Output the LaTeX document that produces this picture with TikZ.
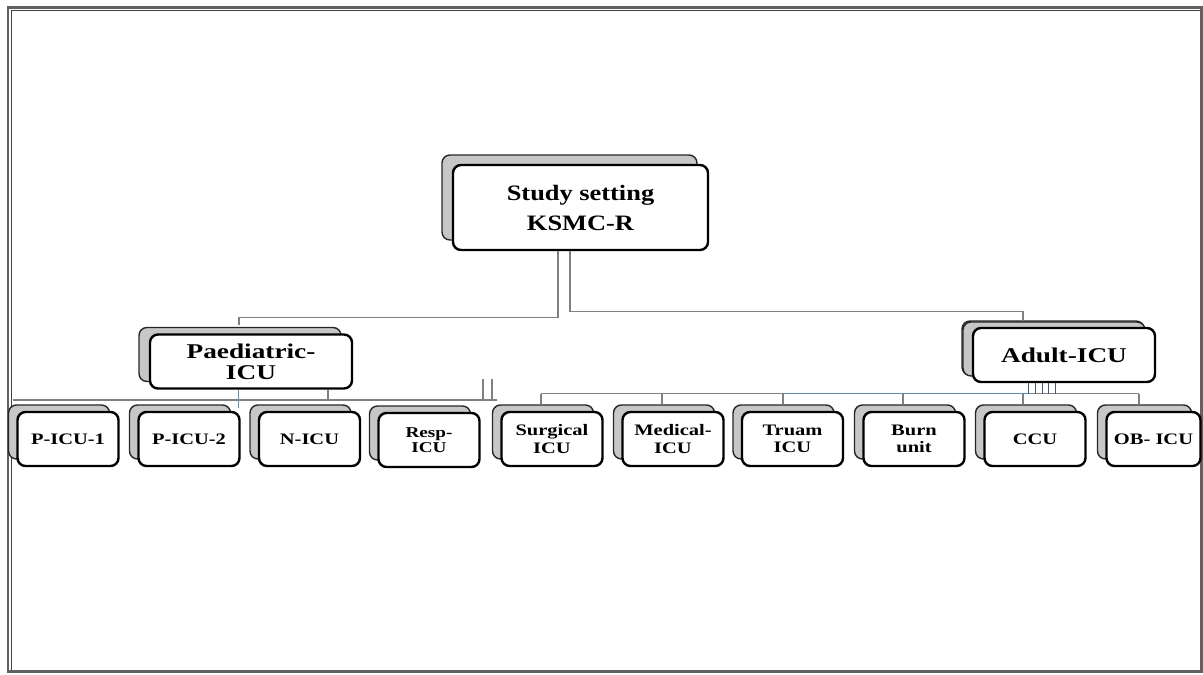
\documentclass[tikz,border=0pt]{standalone}
\usepackage{fontspec}
\setmainfont{Liberation Serif}
\newfontfamily\rootfont[FakeStretch=1.2]{Liberation Serif}
\newfontfamily\midfont[FakeStretch=1.3]{Liberation Serif}
\newfontfamily\leaffont[FakeStretch=1.28]{Liberation Serif}
\usetikzlibrary{shadows}
\begin{document}
\begin{tikzpicture}[x=1pt,y=-1pt,
  front/.style 2 args={draw=black, line width=2.4pt, fill=white,
    rounded corners=8pt, inner sep=0pt, align=center,
    general shadow={draw=black!85, line width=1.4pt, fill=black!22,
      shadow xshift=#1pt, shadow yshift=#2pt}},
  rootbox/.style={front={-11}{10}, minimum width=255pt, minimum height=85pt,
    font=\rootfont\bfseries\fontsize{22}{30}\selectfont},
  midbox/.style={front={-11}{7}, minimum height=54pt,
    font=\midfont\bfseries\fontsize{21}{21}\selectfont},
  leafbox/.style={front={-9}{7}, minimum width=101pt, minimum height=54pt,
    font=\leaffont\bfseries\fontsize{16}{17.5}\selectfont},
  conn/.style={draw=black!50, line width=1.3pt},
  blueconn/.style={draw={rgb,255:red,95;green,140;blue,185}, line width=1.1pt},
  thinconn/.style={draw={rgb,255:red,70;green,90;blue,120}, line width=0.9pt}
]
\useasboundingbox (0,0) rectangle (1203,675);
% frame
\draw[draw=black!62, line width=2.6pt] (8,7.5) rectangle (1201.5,671.5);
\draw[draw=black!75, line width=1pt] (11.5,669.5) -- (11.5,10.8) -- (1199.5,10.8);

% nodes
\node[rootbox] (root) at (580.5,207.5) {Study setting\\KSMC-R};
\node[midbox, minimum width=202pt] (ped) at (251,361.5) {Paediatric-\\ICU};
\node[midbox, minimum width=182pt, front={-10}{6}] (adult) at (1064,355) {Adult-ICU};

\node[leafbox] (p1) at (68,439) {P-ICU-1};
\node[leafbox] (p2) at (189,439) {P-ICU-2};
\node[leafbox] (ni) at (309.5,439) {N-ICU};
\node[leafbox, font=\leaffont\bfseries\fontsize{15}{15}\selectfont] (resp) at (429,440) {Resp-\\ICU};
\node[leafbox] (surg) at (552,439) {Surgical\\ICU};
\node[leafbox] (med) at (673,439) {Medical-\\ICU};
\node[leafbox] (tru) at (792.5,439) {Truam\\ICU};
\node[leafbox] (burn) at (914,439) {Burn\\unit};
\node[leafbox] (ccu) at (1035,439) {CCU};
\node[leafbox, minimum width=94pt] (ob) at (1153.5,439) {OB- ICU};

% root connectors
\draw[conn] ([xshift=-22.5pt]root.south) -- ++(0,66) -| ([xshift=-12pt,yshift=8pt]ped.north);
\draw[conn] ([xshift=-10.5pt]root.south) -- ++(0,60) -| ([xshift=-41pt,yshift=6pt]adult.north);

% paediatric bus
\coordinate (pl) at (12.5,400);
\coordinate (pr) at (497,400);
\draw[conn] (pl) -- (pr);
\coordinate (pa) at ([xshift=77pt]ped.south);
\draw[conn] (pa) -- (pa |- pl);
\coordinate (pb) at ([xshift=-13pt]ped.south);
\draw[blueconn, line width=0.8pt] (pb) -- ++(0,18);
\coordinate (q1) at (483,379);
\coordinate (q2) at (492,379);
\draw[conn] (q1) -- (q1 |- pl);
\draw[conn] (q2) -- (q2 |- pl);

% adult bus
\coordinate (b1) at ([xshift=-11pt,yshift=17pt]surg.north);
\coordinate (b6) at ([xshift=-14.5pt,yshift=17pt]ob.north);
\draw[conn] (b1) -- (b6);
\coordinate (bt) at ([xshift=-9.5pt,yshift=17pt]tru.north);
\coordinate (av1) at ([xshift=-36pt]adult.south);
\draw[blueconn] (bt) -- (av1 |- b1);
\foreach \n/\d in {surg/-11,med/-11,tru/-9.5,burn/-11,ccu/-12,ob/-14.5}
  \draw[conn] ([xshift=\d pt,yshift=17pt]\n.north) -- ([xshift=\d pt,yshift=7pt]\n.north);
\foreach \d in {-36,-29,-22,-16,-9}
  \draw[thinconn] ([xshift=\d pt]adult.south) -- ([xshift=\d pt]adult.south |- b1);
\end{tikzpicture}
\end{document}
